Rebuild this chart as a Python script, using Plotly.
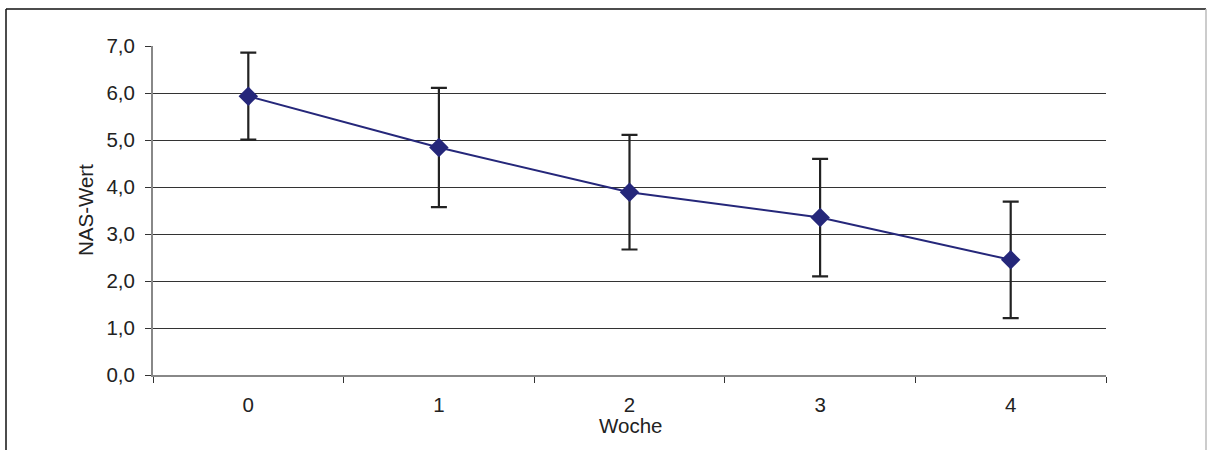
import plotly.graph_objects as go

weeks = ["0", "1", "2", "3", "4"]
nas_mean = [5.93, 4.84, 3.89, 3.35, 2.45]
nas_err_plus = [0.93, 1.27, 1.22, 1.25, 1.24]
nas_err_minus = [0.92, 1.27, 1.22, 1.25, 1.24]
y_ticks = [0, 1, 2, 3, 4, 5, 6, 7]

L, R, T, B = 153, 1106, 46, 375
W, H = 1207, 450
pw, ph = R - L, B - T

def px(x):
    return (x - L) / pw

def py(y):
    return (B - y) / ph

fig = go.Figure()
fig.add_trace(go.Scatter(
    x=weeks, y=nas_mean, mode="lines+markers",
    line=dict(color="#25277a", width=2),
    marker=dict(symbol="diamond", size=15, color="#25277a"),
    error_y=dict(type="data", symmetric=False, array=nas_err_plus,
                 arrayminus=nas_err_minus, color="#222222",
                 thickness=2.2, width=8),
    showlegend=False,
))

font = dict(family="Liberation Sans, Arial, sans-serif", size=20.5, color="#222222")

fig.update_layout(
    width=W, height=H,
    margin=dict(l=L, r=W - R, t=T, b=H - B),
    paper_bgcolor="white", plot_bgcolor="white",
    separators=",.",
    font=font,
    xaxis=dict(type="category", range=[-0.5, 4.5], tickson="boundaries",
               ticks="outside", ticklen=6, tickcolor="#333333", tickwidth=1,
               showline=True, linecolor="#888888", linewidth=2,
               showgrid=False, zeroline=False, tickfont=font,
               ticklabelstandoff=10),
    yaxis=dict(range=[0, 7], tickvals=y_ticks, tickformat=".1f",
               ticks="outside", ticklen=6, tickcolor="#333333", tickwidth=1,
               showline=True, linecolor="#888888", linewidth=2,
               showgrid=True, gridcolor="#333333", gridwidth=1,
               zeroline=False, tickfont=font, ticklabelstandoff=6),
    annotations=[
        dict(text="NAS-Wert", x=px(85), y=py(210), xref="paper", yref="paper",
             showarrow=False, textangle=-90, font=font,
             xanchor="center", yanchor="middle"),
        dict(text="Woche", x=px(630), y=py(425), xref="paper", yref="paper",
             showarrow=False, font=font, xanchor="center", yanchor="middle"),
    ],
    shapes=[
        dict(type="line", xref="paper", yref="paper", x0=px(6), x1=px(6),
             y0=py(9), y1=py(460), line=dict(color="#111111", width=1.5)),
        dict(type="line", xref="paper", yref="paper", x0=px(6), x1=px(1206),
             y0=py(9), y1=py(9), line=dict(color="#111111", width=1.5)),
        dict(type="line", xref="paper", yref="paper", x0=px(1206), x1=px(1206),
             y0=py(9), y1=py(460), line=dict(color="#bbbbbb", width=1.5)),
    ],
)

fig.write_html("out.html")
